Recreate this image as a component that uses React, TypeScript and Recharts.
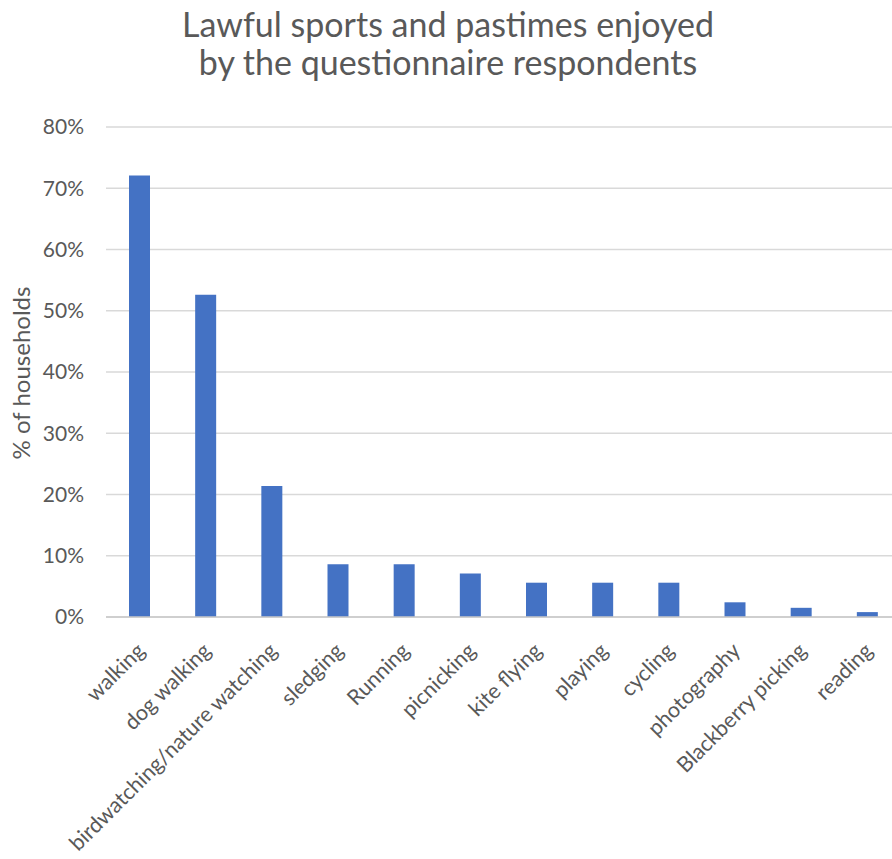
import { BarChart, Bar, XAxis, YAxis, CartesianGrid } from 'recharts';

const CATEGORIES = [
  'walking',
  'dog walking',
  'birdwatching/nature watching',
  'sledging',
  'Running',
  'picnicking',
  'kite flying',
  'playing',
  'cycling',
  'photography',
  'Blackberry picking',
  'reading',
];

// % of households
const SHARES = [72.1, 52.6, 21.4, 8.6, 8.6, 7.1, 5.6, 5.6, 5.6, 2.4, 1.5, 0.8];

const Y_TICKS = [0, 10, 20, 30, 40, 50, 60, 70, 80];

const TITLE_LINES = ['Lawful sports and pastimes enjoyed', 'by the questionnaire respondents'];

const FONT = 'Lato, "Open Sans", sans-serif';
const TEXT_COLOR = '#595959';

const data = CATEGORIES.map((name, i) => ({ name, share: SHARES[i] }));

function XTick({ x, y, payload }: any) {
  return (
    <text
      transform={`translate(${x + 7},${y + 27}) rotate(-45)`}
      textAnchor="end"
      fill={TEXT_COLOR}
      fontSize={21.5}
      fontFamily={FONT}
    >
      {payload.value}
    </text>
  );
}

function YTick({ x, y, payload }: any) {
  return (
    <text x={x - 14} y={y} dy="0.35em" textAnchor="end" fill={TEXT_COLOR} fontSize={21} fontFamily={FONT}>
      {`${payload.value}%`}
    </text>
  );
}

export default function App() {
  return (
    <div
      style={{
        position: 'absolute',
        left: 0,
        top: 0,
        width: 892,
        height: 859,
        overflow: 'hidden',
        background: '#fff',
      }}
    >
      <BarChart width={900} height={859} data={data} margin={{ top: 127, right: 0, bottom: 0, left: 0 }}>
        <CartesianGrid vertical={false} stroke="#D9D9D9" strokeWidth={1.5} />
        <XAxis
          dataKey="name"
          interval={0}
          height={242}
          tick={<XTick />}
          tickLine={false}
          axisLine={{ stroke: '#C8C8C8', strokeWidth: 1.5 }}
        />
        <YAxis
          width={106}
          domain={[0, 80]}
          ticks={Y_TICKS}
          tick={<YTick />}
          tickLine={false}
          axisLine={false}
        />
        <Bar dataKey="share" fill="#4472C4" barSize={21} isAnimationActive={false} />
      </BarChart>

      {/* title and y axis label */}
      <svg width={892} height={859} style={{ position: 'absolute', left: 0, top: 0, pointerEvents: 'none' }}>
        {TITLE_LINES.map((line, i) => (
          <text
            key={line}
            x={448}
            y={37 + i * 38}
            textAnchor="middle"
            fill={TEXT_COLOR}
            fontSize={34}
            fontFamily={FONT}
          >
            {line}
          </text>
        ))}
        <text
          transform="translate(30,373) rotate(-90)"
          textAnchor="middle"
          fill={TEXT_COLOR}
          fontSize={24}
          fontFamily={FONT}
        >
          % of households
        </text>
      </svg>
    </div>
  );
}
